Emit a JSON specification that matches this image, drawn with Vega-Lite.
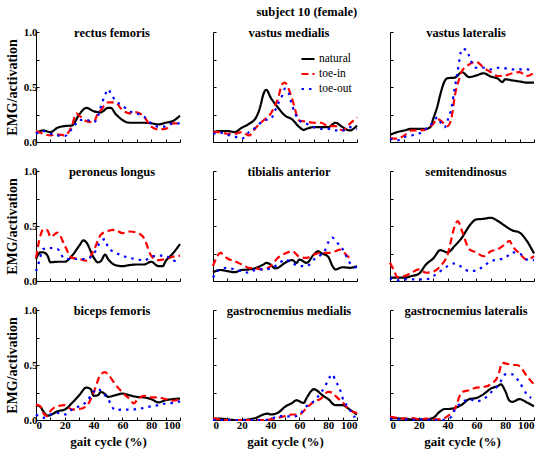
{
  "$schema": "https://vega.github.io/schema/vega-lite/v6.json",
  "padding": {"left": 5, "top": 5, "right": 4, "bottom": 4},
  "title": {"text": "subject 10 (female)", "dx": 35},
  "datasets": {
    "emg": [
      {"muscle":"rectus femoris","gait":0,"natural":0.08,"toe-in":0.1,"toe-out":0.075},
      {"muscle":"rectus femoris","gait":5,"natural":0.105,"toe-in":0.075,"toe-out":0.1},
      {"muscle":"rectus femoris","gait":10,"natural":0.09,"toe-in":0.06,"toe-out":0.075},
      {"muscle":"rectus femoris","gait":15,"natural":0.13,"toe-in":0.07,"toe-out":0.06},
      {"muscle":"rectus femoris","gait":20,"natural":0.145,"toe-in":0.06,"toe-out":0.055},
      {"muscle":"rectus femoris","gait":25,"natural":0.15,"toe-in":0.15,"toe-out":0.12},
      {"muscle":"rectus femoris","gait":28,"natural":null,"toe-in":0.26,"toe-out":0.17},
      {"muscle":"rectus femoris","gait":30,"natural":0.25,"toe-in":0.24,"toe-out":0.2},
      {"muscle":"rectus femoris","gait":35,"natural":0.31,"toe-in":0.19,"toe-out":0.2},
      {"muscle":"rectus femoris","gait":40,"natural":0.28,"toe-in":0.18,"toe-out":0.18},
      {"muscle":"rectus femoris","gait":43,"natural":null,"toe-in":0.26,"toe-out":0.23},
      {"muscle":"rectus femoris","gait":45,"natural":0.27,"toe-in":0.29,"toe-out":0.32},
      {"muscle":"rectus femoris","gait":48,"natural":null,"toe-in":null,"toe-out":0.43},
      {"muscle":"rectus femoris","gait":50,"natural":0.31,"toe-in":0.36,"toe-out":0.48},
      {"muscle":"rectus femoris","gait":52,"natural":0.31,"toe-in":null,"toe-out":0.44},
      {"muscle":"rectus femoris","gait":55,"natural":0.26,"toe-in":0.36,"toe-out":0.38},
      {"muscle":"rectus femoris","gait":60,"natural":0.2,"toe-in":0.29,"toe-out":0.33},
      {"muscle":"rectus femoris","gait":65,"natural":0.175,"toe-in":0.26,"toe-out":0.28},
      {"muscle":"rectus femoris","gait":70,"natural":0.175,"toe-in":0.27,"toe-out":0.26},
      {"muscle":"rectus femoris","gait":75,"natural":0.175,"toe-in":0.23,"toe-out":0.23},
      {"muscle":"rectus femoris","gait":80,"natural":0.17,"toe-in":0.14,"toe-out":0.17},
      {"muscle":"rectus femoris","gait":85,"natural":0.16,"toe-in":0.115,"toe-out":0.14},
      {"muscle":"rectus femoris","gait":90,"natural":0.175,"toe-in":0.12,"toe-out":0.14},
      {"muscle":"rectus femoris","gait":95,"natural":0.19,"toe-in":0.17,"toe-out":0.17},
      {"muscle":"rectus femoris","gait":100,"natural":0.24,"toe-in":0.17,"toe-out":0.17},

      {"muscle":"vastus medialis","gait":0,"natural":0.09,"toe-in":0.09,"toe-out":0.075},
      {"muscle":"vastus medialis","gait":5,"natural":0.1,"toe-in":0.09,"toe-out":0.085},
      {"muscle":"vastus medialis","gait":10,"natural":0.1,"toe-in":0.075,"toe-out":0.065},
      {"muscle":"vastus medialis","gait":15,"natural":0.09,"toe-in":0.075,"toe-out":0.05},
      {"muscle":"vastus medialis","gait":20,"natural":0.13,"toe-in":0.09,"toe-out":0.03},
      {"muscle":"vastus medialis","gait":25,"natural":0.165,"toe-in":0.06,"toe-out":0.09},
      {"muscle":"vastus medialis","gait":30,"natural":0.225,"toe-in":0.135,"toe-out":0.135},
      {"muscle":"vastus medialis","gait":33,"natural":0.33,"toe-in":null,"toe-out":null},
      {"muscle":"vastus medialis","gait":35,"natural":0.435,"toe-in":0.195,"toe-out":0.195},
      {"muscle":"vastus medialis","gait":37,"natural":0.475,"toe-in":null,"toe-out":null},
      {"muscle":"vastus medialis","gait":40,"natural":0.405,"toe-in":0.255,"toe-out":0.21},
      {"muscle":"vastus medialis","gait":43,"natural":null,"toe-in":0.33,"toe-out":null},
      {"muscle":"vastus medialis","gait":45,"natural":0.315,"toe-in":0.39,"toe-out":0.345},
      {"muscle":"vastus medialis","gait":48,"natural":null,"toe-in":0.525,"toe-out":0.42},
      {"muscle":"vastus medialis","gait":50,"natural":0.24,"toe-in":0.54,"toe-out":0.485},
      {"muscle":"vastus medialis","gait":52,"natural":null,"toe-in":0.5,"toe-out":0.465},
      {"muscle":"vastus medialis","gait":55,"natural":0.205,"toe-in":0.39,"toe-out":0.33},
      {"muscle":"vastus medialis","gait":60,"natural":0.135,"toe-in":0.195,"toe-out":0.195},
      {"muscle":"vastus medialis","gait":63,"natural":0.11,"toe-in":null,"toe-out":null},
      {"muscle":"vastus medialis","gait":65,"natural":0.12,"toe-in":0.185,"toe-out":0.165},
      {"muscle":"vastus medialis","gait":70,"natural":0.135,"toe-in":0.175,"toe-out":0.135},
      {"muscle":"vastus medialis","gait":75,"natural":0.135,"toe-in":0.175,"toe-out":0.12},
      {"muscle":"vastus medialis","gait":80,"natural":0.135,"toe-in":0.145,"toe-out":0.12},
      {"muscle":"vastus medialis","gait":85,"natural":0.175,"toe-in":0.145,"toe-out":0.105},
      {"muscle":"vastus medialis","gait":90,"natural":0.135,"toe-in":0.105,"toe-out":0.105},
      {"muscle":"vastus medialis","gait":95,"natural":0.105,"toe-in":0.165,"toe-out":0.135},
      {"muscle":"vastus medialis","gait":100,"natural":0.15,"toe-in":0.225,"toe-out":0.115},

      {"muscle":"vastus lateralis","gait":0,"natural":0.065,"toe-in":0.035,"toe-out":0.03},
      {"muscle":"vastus lateralis","gait":5,"natural":0.09,"toe-in":0.03,"toe-out":0.015},
      {"muscle":"vastus lateralis","gait":10,"natural":0.105,"toe-in":0.06,"toe-out":0.045},
      {"muscle":"vastus lateralis","gait":15,"natural":0.12,"toe-in":0.105,"toe-out":0.06},
      {"muscle":"vastus lateralis","gait":20,"natural":0.12,"toe-in":0.105,"toe-out":0.075},
      {"muscle":"vastus lateralis","gait":25,"natural":0.12,"toe-in":0.115,"toe-out":0.12},
      {"muscle":"vastus lateralis","gait":28,"natural":0.135,"toe-in":null,"toe-out":null},
      {"muscle":"vastus lateralis","gait":30,"natural":0.21,"toe-in":0.165,"toe-out":0.18},
      {"muscle":"vastus lateralis","gait":33,"natural":0.33,"toe-in":0.21,"toe-out":0.225},
      {"muscle":"vastus lateralis","gait":35,"natural":0.435,"toe-in":0.195,"toe-out":0.18},
      {"muscle":"vastus lateralis","gait":38,"natural":0.555,"toe-in":null,"toe-out":0.135},
      {"muscle":"vastus lateralis","gait":40,"natural":0.58,"toe-in":0.145,"toe-out":0.195},
      {"muscle":"vastus lateralis","gait":43,"natural":null,"toe-in":0.24,"toe-out":0.33},
      {"muscle":"vastus lateralis","gait":45,"natural":0.585,"toe-in":0.42,"toe-out":0.495},
      {"muscle":"vastus lateralis","gait":47,"natural":null,"toe-in":null,"toe-out":0.645},
      {"muscle":"vastus lateralis","gait":48,"natural":null,"toe-in":0.57,"toe-out":null},
      {"muscle":"vastus lateralis","gait":50,"natural":0.635,"toe-in":0.645,"toe-out":0.845},
      {"muscle":"vastus lateralis","gait":53,"natural":null,"toe-in":null,"toe-out":0.84},
      {"muscle":"vastus lateralis","gait":55,"natural":0.59,"toe-in":0.705,"toe-out":0.78},
      {"muscle":"vastus lateralis","gait":58,"natural":null,"toe-in":null,"toe-out":0.69},
      {"muscle":"vastus lateralis","gait":60,"natural":0.605,"toe-in":0.73,"toe-out":0.675},
      {"muscle":"vastus lateralis","gait":65,"natural":0.625,"toe-in":0.675,"toe-out":0.675},
      {"muscle":"vastus lateralis","gait":70,"natural":0.595,"toe-in":0.635,"toe-out":0.66},
      {"muscle":"vastus lateralis","gait":75,"natural":0.575,"toe-in":0.6,"toe-out":0.675},
      {"muscle":"vastus lateralis","gait":78,"natural":0.545,"toe-in":null,"toe-out":null},
      {"muscle":"vastus lateralis","gait":80,"natural":0.57,"toe-in":0.605,"toe-out":0.67},
      {"muscle":"vastus lateralis","gait":85,"natural":0.56,"toe-in":0.625,"toe-out":0.66},
      {"muscle":"vastus lateralis","gait":90,"natural":0.55,"toe-in":0.635,"toe-out":0.66},
      {"muscle":"vastus lateralis","gait":95,"natural":0.54,"toe-in":0.6,"toe-out":0.66},
      {"muscle":"vastus lateralis","gait":100,"natural":0.54,"toe-in":0.63,"toe-out":0.645},

      {"muscle":"peroneus longus","gait":0,"natural":0.2,"toe-in":0.21,"toe-out":0.09},
      {"muscle":"peroneus longus","gait":2,"natural":null,"toe-in":null,"toe-out":0.17},
      {"muscle":"peroneus longus","gait":3,"natural":0.26,"toe-in":0.41,"toe-out":null},
      {"muscle":"peroneus longus","gait":5,"natural":0.26,"toe-in":0.47,"toe-out":0.29},
      {"muscle":"peroneus longus","gait":8,"natural":0.23,"toe-in":0.46,"toe-out":null},
      {"muscle":"peroneus longus","gait":10,"natural":0.17,"toe-in":0.4,"toe-out":0.3},
      {"muscle":"peroneus longus","gait":15,"natural":0.175,"toe-in":0.44,"toe-out":0.29},
      {"muscle":"peroneus longus","gait":20,"natural":0.175,"toe-in":0.32,"toe-out":0.2},
      {"muscle":"peroneus longus","gait":25,"natural":0.23,"toe-in":0.21,"toe-out":0.2},
      {"muscle":"peroneus longus","gait":30,"natural":0.32,"toe-in":0.2,"toe-out":0.2},
      {"muscle":"peroneus longus","gait":33,"natural":0.37,"toe-in":null,"toe-out":null},
      {"muscle":"peroneus longus","gait":35,"natural":0.35,"toe-in":0.185,"toe-out":0.2},
      {"muscle":"peroneus longus","gait":40,"natural":0.215,"toe-in":0.275,"toe-out":0.245},
      {"muscle":"peroneus longus","gait":43,"natural":0.17,"toe-in":null,"toe-out":null},
      {"muscle":"peroneus longus","gait":45,"natural":0.18,"toe-in":0.42,"toe-out":0.36},
      {"muscle":"peroneus longus","gait":48,"natural":0.24,"toe-in":null,"toe-out":0.38},
      {"muscle":"peroneus longus","gait":50,"natural":0.2,"toe-in":0.455,"toe-out":0.305},
      {"muscle":"peroneus longus","gait":55,"natural":0.145,"toe-in":0.465,"toe-out":0.26},
      {"muscle":"peroneus longus","gait":60,"natural":0.135,"toe-in":0.435,"toe-out":0.23},
      {"muscle":"peroneus longus","gait":65,"natural":0.145,"toe-in":0.45,"toe-out":0.21},
      {"muscle":"peroneus longus","gait":70,"natural":0.15,"toe-in":0.44,"toe-out":0.2},
      {"muscle":"peroneus longus","gait":75,"natural":0.15,"toe-in":0.39,"toe-out":0.185},
      {"muscle":"peroneus longus","gait":80,"natural":0.175,"toe-in":0.23,"toe-out":0.22},
      {"muscle":"peroneus longus","gait":85,"natural":0.135,"toe-in":0.19,"toe-out":0.23},
      {"muscle":"peroneus longus","gait":88,"natural":0.135,"toe-in":null,"toe-out":null},
      {"muscle":"peroneus longus","gait":90,"natural":0.18,"toe-in":0.2,"toe-out":0.23},
      {"muscle":"peroneus longus","gait":95,"natural":0.25,"toe-in":0.22,"toe-out":0.185},
      {"muscle":"peroneus longus","gait":100,"natural":0.335,"toe-in":0.23,"toe-out":0.18},

      {"muscle":"tibialis anterior","gait":0,"natural":0.08,"toe-in":0.135,"toe-out":0.03},
      {"muscle":"tibialis anterior","gait":2,"natural":null,"toe-in":null,"toe-out":0.075},
      {"muscle":"tibialis anterior","gait":3,"natural":null,"toe-in":0.225,"toe-out":null},
      {"muscle":"tibialis anterior","gait":5,"natural":0.1,"toe-in":0.255,"toe-out":0.105},
      {"muscle":"tibialis anterior","gait":10,"natural":0.09,"toe-in":0.205,"toe-out":0.12},
      {"muscle":"tibialis anterior","gait":15,"natural":0.08,"toe-in":0.18,"toe-out":0.105},
      {"muscle":"tibialis anterior","gait":20,"natural":0.1,"toe-in":0.15,"toe-out":0.09},
      {"muscle":"tibialis anterior","gait":25,"natural":0.105,"toe-in":0.12,"toe-out":0.075},
      {"muscle":"tibialis anterior","gait":30,"natural":0.12,"toe-in":0.115,"toe-out":0.105},
      {"muscle":"tibialis anterior","gait":35,"natural":0.15,"toe-in":0.105,"toe-out":0.105},
      {"muscle":"tibialis anterior","gait":37,"natural":0.165,"toe-in":null,"toe-out":null},
      {"muscle":"tibialis anterior","gait":40,"natural":0.15,"toe-in":0.135,"toe-out":0.115},
      {"muscle":"tibialis anterior","gait":43,"natural":0.115,"toe-in":null,"toe-out":null},
      {"muscle":"tibialis anterior","gait":45,"natural":0.12,"toe-in":0.21,"toe-out":0.15},
      {"muscle":"tibialis anterior","gait":50,"natural":0.165,"toe-in":0.25,"toe-out":0.195},
      {"muscle":"tibialis anterior","gait":55,"natural":0.19,"toe-in":0.27,"toe-out":0.165},
      {"muscle":"tibialis anterior","gait":58,"natural":0.165,"toe-in":null,"toe-out":null},
      {"muscle":"tibialis anterior","gait":60,"natural":0.195,"toe-in":0.22,"toe-out":0.135},
      {"muscle":"tibialis anterior","gait":65,"natural":0.165,"toe-in":0.21,"toe-out":0.135},
      {"muscle":"tibialis anterior","gait":70,"natural":0.24,"toe-in":0.24,"toe-out":0.195},
      {"muscle":"tibialis anterior","gait":73,"natural":0.27,"toe-in":null,"toe-out":null},
      {"muscle":"tibialis anterior","gait":75,"natural":0.255,"toe-in":0.255,"toe-out":0.24},
      {"muscle":"tibialis anterior","gait":78,"natural":null,"toe-in":null,"toe-out":0.285},
      {"muscle":"tibialis anterior","gait":80,"natural":0.22,"toe-in":0.255,"toe-out":0.35},
      {"muscle":"tibialis anterior","gait":83,"natural":0.135,"toe-in":null,"toe-out":0.395},
      {"muscle":"tibialis anterior","gait":85,"natural":0.105,"toe-in":0.27,"toe-out":0.365},
      {"muscle":"tibialis anterior","gait":88,"natural":null,"toe-in":0.285,"toe-out":null},
      {"muscle":"tibialis anterior","gait":90,"natural":0.125,"toe-in":0.27,"toe-out":0.29},
      {"muscle":"tibialis anterior","gait":95,"natural":0.12,"toe-in":0.21,"toe-out":0.165},
      {"muscle":"tibialis anterior","gait":97,"natural":null,"toe-in":0.2,"toe-out":null},
      {"muscle":"tibialis anterior","gait":100,"natural":0.135,"toe-in":null,"toe-out":0.12},

      {"muscle":"semitendinosus","gait":0,"natural":0.03,"toe-in":0.165,"toe-out":0.03},
      {"muscle":"semitendinosus","gait":3,"natural":null,"toe-in":0.09,"toe-out":null},
      {"muscle":"semitendinosus","gait":5,"natural":0.03,"toe-in":0.035,"toe-out":0.005},
      {"muscle":"semitendinosus","gait":10,"natural":0.03,"toe-in":0.045,"toe-out":0.015},
      {"muscle":"semitendinosus","gait":15,"natural":0.045,"toe-in":0.075,"toe-out":0.015},
      {"muscle":"semitendinosus","gait":20,"natural":0.065,"toe-in":0.105,"toe-out":0.015},
      {"muscle":"semitendinosus","gait":25,"natural":0.15,"toe-in":0.075,"toe-out":0.015},
      {"muscle":"semitendinosus","gait":30,"natural":0.205,"toe-in":0.085,"toe-out":0.045},
      {"muscle":"semitendinosus","gait":35,"natural":0.28,"toe-in":0.135,"toe-out":0.09},
      {"muscle":"semitendinosus","gait":40,"natural":0.26,"toe-in":0.24,"toe-out":0.135},
      {"muscle":"semitendinosus","gait":45,"natural":0.32,"toe-in":0.5,"toe-out":0.16},
      {"muscle":"semitendinosus","gait":47,"natural":null,"toe-in":0.545,"toe-out":null},
      {"muscle":"semitendinosus","gait":50,"natural":0.395,"toe-in":0.455,"toe-out":0.125},
      {"muscle":"semitendinosus","gait":55,"natural":0.5,"toe-in":0.29,"toe-out":0.09},
      {"muscle":"semitendinosus","gait":60,"natural":0.56,"toe-in":0.26,"toe-out":0.095},
      {"muscle":"semitendinosus","gait":65,"natural":0.565,"toe-in":0.225,"toe-out":0.135},
      {"muscle":"semitendinosus","gait":70,"natural":0.575,"toe-in":0.27,"toe-out":0.18},
      {"muscle":"semitendinosus","gait":75,"natural":0.545,"toe-in":0.29,"toe-out":0.195},
      {"muscle":"semitendinosus","gait":80,"natural":0.5,"toe-in":0.335,"toe-out":0.21},
      {"muscle":"semitendinosus","gait":83,"natural":null,"toe-in":0.365,"toe-out":null},
      {"muscle":"semitendinosus","gait":85,"natural":0.46,"toe-in":0.32,"toe-out":0.26},
      {"muscle":"semitendinosus","gait":90,"natural":0.44,"toe-in":0.25,"toe-out":0.25},
      {"muscle":"semitendinosus","gait":95,"natural":0.365,"toe-in":0.195,"toe-out":0.195},
      {"muscle":"semitendinosus","gait":100,"natural":0.25,"toe-in":0.225,"toe-out":0.19},

      {"muscle":"biceps femoris","gait":0,"natural":0.135,"toe-in":0.14,"toe-out":0.05},
      {"muscle":"biceps femoris","gait":3,"natural":0.12,"toe-in":0.125,"toe-out":null},
      {"muscle":"biceps femoris","gait":5,"natural":0.08,"toe-in":0.065,"toe-out":0.02},
      {"muscle":"biceps femoris","gait":8,"natural":0.04,"toe-in":0.035,"toe-out":null},
      {"muscle":"biceps femoris","gait":10,"natural":0.045,"toe-in":0.08,"toe-out":0.05},
      {"muscle":"biceps femoris","gait":15,"natural":0.08,"toe-in":0.125,"toe-out":0.065},
      {"muscle":"biceps femoris","gait":20,"natural":0.095,"toe-in":0.135,"toe-out":0.05},
      {"muscle":"biceps femoris","gait":25,"natural":0.155,"toe-in":0.095,"toe-out":0.095},
      {"muscle":"biceps femoris","gait":30,"natural":0.225,"toe-in":0.1,"toe-out":0.125},
      {"muscle":"biceps femoris","gait":35,"natural":0.295,"toe-in":0.125,"toe-out":0.165},
      {"muscle":"biceps femoris","gait":38,"natural":0.28,"toe-in":null,"toe-out":null},
      {"muscle":"biceps femoris","gait":40,"natural":0.22,"toe-in":0.25,"toe-out":0.255},
      {"muscle":"biceps femoris","gait":43,"natural":0.225,"toe-in":null,"toe-out":0.285},
      {"muscle":"biceps femoris","gait":45,"natural":0.255,"toe-in":0.415,"toe-out":0.265},
      {"muscle":"biceps femoris","gait":48,"natural":0.235,"toe-in":0.435,"toe-out":null},
      {"muscle":"biceps femoris","gait":50,"natural":0.21,"toe-in":0.415,"toe-out":0.19},
      {"muscle":"biceps femoris","gait":55,"natural":0.225,"toe-in":0.325,"toe-out":0.09},
      {"muscle":"biceps femoris","gait":60,"natural":0.24,"toe-in":0.25,"toe-out":0.095},
      {"muscle":"biceps femoris","gait":65,"natural":0.225,"toe-in":0.19,"toe-out":0.095},
      {"muscle":"biceps femoris","gait":68,"natural":null,"toe-in":0.15,"toe-out":null},
      {"muscle":"biceps femoris","gait":70,"natural":0.21,"toe-in":0.18,"toe-out":0.1},
      {"muscle":"biceps femoris","gait":75,"natural":0.205,"toe-in":0.22,"toe-out":0.11},
      {"muscle":"biceps femoris","gait":80,"natural":0.19,"toe-in":0.205,"toe-out":0.125},
      {"muscle":"biceps femoris","gait":85,"natural":0.16,"toe-in":0.205,"toe-out":0.135},
      {"muscle":"biceps femoris","gait":90,"natural":0.18,"toe-in":0.19,"toe-out":0.15},
      {"muscle":"biceps femoris","gait":95,"natural":0.19,"toe-in":0.175,"toe-out":0.155},
      {"muscle":"biceps femoris","gait":100,"natural":0.195,"toe-in":0.19,"toe-out":0.17},

      {"muscle":"gastrocnemius medialis","gait":0,"natural":0.012,"toe-in":0.012,"toe-out":0},
      {"muscle":"gastrocnemius medialis","gait":5,"natural":0.012,"toe-in":0.006,"toe-out":0},
      {"muscle":"gastrocnemius medialis","gait":10,"natural":0.006,"toe-in":0,"toe-out":0},
      {"muscle":"gastrocnemius medialis","gait":15,"natural":0,"toe-in":0,"toe-out":0},
      {"muscle":"gastrocnemius medialis","gait":20,"natural":0,"toe-in":0,"toe-out":0},
      {"muscle":"gastrocnemius medialis","gait":25,"natural":0.006,"toe-in":0,"toe-out":0},
      {"muscle":"gastrocnemius medialis","gait":30,"natural":0.02,"toe-in":0,"toe-out":0},
      {"muscle":"gastrocnemius medialis","gait":35,"natural":0.05,"toe-in":0,"toe-out":0},
      {"muscle":"gastrocnemius medialis","gait":38,"natural":0.058,"toe-in":null,"toe-out":null},
      {"muscle":"gastrocnemius medialis","gait":40,"natural":0.05,"toe-in":0.006,"toe-out":0.006},
      {"muscle":"gastrocnemius medialis","gait":45,"natural":0.065,"toe-in":0.02,"toe-out":0.035},
      {"muscle":"gastrocnemius medialis","gait":50,"natural":0.12,"toe-in":0.035,"toe-out":0.035},
      {"muscle":"gastrocnemius medialis","gait":55,"natural":0.155,"toe-in":0.05,"toe-out":0.03},
      {"muscle":"gastrocnemius medialis","gait":58,"natural":0.18,"toe-in":null,"toe-out":null},
      {"muscle":"gastrocnemius medialis","gait":60,"natural":0.17,"toe-in":0.05,"toe-out":0.05},
      {"muscle":"gastrocnemius medialis","gait":63,"natural":0.155,"toe-in":null,"toe-out":null},
      {"muscle":"gastrocnemius medialis","gait":65,"natural":0.2,"toe-in":0.11,"toe-out":0.125},
      {"muscle":"gastrocnemius medialis","gait":68,"natural":0.26,"toe-in":null,"toe-out":null},
      {"muscle":"gastrocnemius medialis","gait":70,"natural":0.28,"toe-in":0.165,"toe-out":0.17},
      {"muscle":"gastrocnemius medialis","gait":73,"natural":0.26,"toe-in":null,"toe-out":null},
      {"muscle":"gastrocnemius medialis","gait":75,"natural":0.235,"toe-in":0.195,"toe-out":0.25},
      {"muscle":"gastrocnemius medialis","gait":78,"natural":null,"toe-in":null,"toe-out":0.31},
      {"muscle":"gastrocnemius medialis","gait":80,"natural":0.19,"toe-in":0.255,"toe-out":0.365},
      {"muscle":"gastrocnemius medialis","gait":83,"natural":null,"toe-in":0.25,"toe-out":0.415},
      {"muscle":"gastrocnemius medialis","gait":85,"natural":0.135,"toe-in":0.22,"toe-out":0.355},
      {"muscle":"gastrocnemius medialis","gait":88,"natural":null,"toe-in":null,"toe-out":0.285},
      {"muscle":"gastrocnemius medialis","gait":90,"natural":0.135,"toe-in":0.16,"toe-out":0.2},
      {"muscle":"gastrocnemius medialis","gait":95,"natural":0.095,"toe-in":0.09,"toe-out":0.095},
      {"muscle":"gastrocnemius medialis","gait":98,"natural":null,"toe-in":null,"toe-out":0.03},
      {"muscle":"gastrocnemius medialis","gait":100,"natural":0.05,"toe-in":0.065,"toe-out":0.04},

      {"muscle":"gastrocnemius lateralis","gait":0,"natural":0.02,"toe-in":0.03,"toe-out":0.012},
      {"muscle":"gastrocnemius lateralis","gait":5,"natural":0.015,"toe-in":0.02,"toe-out":0.006},
      {"muscle":"gastrocnemius lateralis","gait":10,"natural":0.012,"toe-in":0.012,"toe-out":0.006},
      {"muscle":"gastrocnemius lateralis","gait":15,"natural":0.006,"toe-in":0.02,"toe-out":0.003},
      {"muscle":"gastrocnemius lateralis","gait":20,"natural":0.006,"toe-in":0.006,"toe-out":0.003},
      {"muscle":"gastrocnemius lateralis","gait":25,"natural":0.006,"toe-in":0.012,"toe-out":0.003},
      {"muscle":"gastrocnemius lateralis","gait":30,"natural":0.02,"toe-in":0.006,"toe-out":0},
      {"muscle":"gastrocnemius lateralis","gait":35,"natural":0.08,"toe-in":0.006,"toe-out":0},
      {"muscle":"gastrocnemius lateralis","gait":38,"natural":0.1,"toe-in":null,"toe-out":null},
      {"muscle":"gastrocnemius lateralis","gait":40,"natural":0.1,"toe-in":0.035,"toe-out":0.012},
      {"muscle":"gastrocnemius lateralis","gait":43,"natural":null,"toe-in":null,"toe-out":0.035},
      {"muscle":"gastrocnemius lateralis","gait":45,"natural":0.11,"toe-in":0.1,"toe-out":0.095},
      {"muscle":"gastrocnemius lateralis","gait":50,"natural":0.14,"toe-in":0.255,"toe-out":0.155},
      {"muscle":"gastrocnemius lateralis","gait":55,"natural":0.19,"toe-in":0.27,"toe-out":0.19},
      {"muscle":"gastrocnemius lateralis","gait":60,"natural":0.2,"toe-in":0.295,"toe-out":0.17},
      {"muscle":"gastrocnemius lateralis","gait":65,"natural":0.235,"toe-in":0.3,"toe-out":0.19},
      {"muscle":"gastrocnemius lateralis","gait":70,"natural":0.285,"toe-in":0.325,"toe-out":0.25},
      {"muscle":"gastrocnemius lateralis","gait":75,"natural":0.31,"toe-in":0.4,"toe-out":0.315},
      {"muscle":"gastrocnemius lateralis","gait":77,"natural":0.325,"toe-in":null,"toe-out":null},
      {"muscle":"gastrocnemius lateralis","gait":78,"natural":null,"toe-in":0.52,"toe-out":0.375},
      {"muscle":"gastrocnemius lateralis","gait":80,"natural":0.265,"toe-in":0.515,"toe-out":0.415},
      {"muscle":"gastrocnemius lateralis","gait":83,"natural":0.175,"toe-in":null,"toe-out":null},
      {"muscle":"gastrocnemius lateralis","gait":85,"natural":0.165,"toe-in":0.5,"toe-out":0.415},
      {"muscle":"gastrocnemius lateralis","gait":88,"natural":null,"toe-in":0.5,"toe-out":null},
      {"muscle":"gastrocnemius lateralis","gait":90,"natural":0.19,"toe-in":0.49,"toe-out":0.34},
      {"muscle":"gastrocnemius lateralis","gait":95,"natural":0.16,"toe-in":0.4,"toe-out":0.235},
      {"muscle":"gastrocnemius lateralis","gait":98,"natural":null,"toe-in":null,"toe-out":0.2},
      {"muscle":"gastrocnemius lateralis","gait":100,"natural":0.125,"toe-in":0.325,"toe-out":null}
    ]
  },
  "data": {"name": "emg"},
  "transform": [
    {"fold": ["natural", "toe-in", "toe-out"], "as": ["condition", "emg"]},
    {"filter": "datum.emg != null"}
  ],
  "columns": 3,
  "align": "each",
  "spacing": {"row": 18, "column": 23},
  "resolve": {"legend": {"color": "independent", "strokeDash": "independent"}},
  "concat": [
    {
      "width": 144, "height": 110,
      "transform": [{"filter": "datum.muscle === 'rectus femoris'"}],
      "layer": [
        {"mark": "line", "encoding": {
          "x": {"field": "gait", "type": "quantitative", "scale": {"domain": [0, 100]}, "axis": {"values": [0,10,20,30,40,50,60,70,80,90,100], "tickCount": 11, "labels": false, "title": null}},
          "y": {"field": "emg", "type": "quantitative", "scale": {"domain": [0, 1]}, "axis": {"values": [0,0.25,0.5,0.75,1], "tickCount": 5, "labelExpr": "datum.value % 0.5 === 0 ? format(datum.value, '.1f') : ''", "title": "EMG/activation"}},
          "color": {"field": "condition", "type": "nominal", "scale": {"domain": ["natural","toe-in","toe-out"], "range": ["#000000","#ff0000","#0000ff"]}, "legend": null},
          "strokeDash": {"field": "condition", "type": "nominal", "scale": {"domain": ["natural","toe-in","toe-out"], "range": [[1,0],[7,4],[2.5,5]]}, "legend": null}
        }},
        {"transform": [{"aggregate": [{"op": "count", "as": "n"}], "groupby": ["muscle"]}],
         "mark": "text", "encoding": {"x": {"datum": 50}, "y": {"datum": 1}, "text": {"field": "muscle"}}}
      ]
    },
    {
      "width": 144, "height": 110,
      "transform": [{"filter": "datum.muscle === 'vastus medialis'"}],
      "layer": [
        {"mark": "line", "encoding": {
          "x": {"field": "gait", "type": "quantitative", "scale": {"domain": [0, 100]}, "axis": {"values": [0,10,20,30,40,50,60,70,80,90,100], "tickCount": 11, "labels": false, "title": null}},
          "y": {"field": "emg", "type": "quantitative", "scale": {"domain": [0, 1]}, "axis": {"values": [0,0.25,0.5,0.75,1], "tickCount": 5, "labels": false, "title": null}},
          "color": {"field": "condition", "type": "nominal", "scale": {"domain": ["natural","toe-in","toe-out"], "range": ["#000000","#ff0000","#0000ff"]}, "legend": {"orient": "none", "legendX": 87, "legendY": 19, "title": null}},
          "strokeDash": {"field": "condition", "type": "nominal", "scale": {"domain": ["natural","toe-in","toe-out"], "range": [[1,0],[7,4],[2.5,5]]}, "legend": {"orient": "none", "legendX": 87, "legendY": 19, "title": null}}
        }},
        {"transform": [{"aggregate": [{"op": "count", "as": "n"}], "groupby": ["muscle"]}],
         "mark": "text", "encoding": {"x": {"datum": 50}, "y": {"datum": 1}, "text": {"field": "muscle"}}}
      ]
    },
    {
      "width": 144, "height": 110,
      "transform": [{"filter": "datum.muscle === 'vastus lateralis'"}],
      "layer": [
        {"mark": "line", "encoding": {
          "x": {"field": "gait", "type": "quantitative", "scale": {"domain": [0, 100]}, "axis": {"values": [0,10,20,30,40,50,60,70,80,90,100], "tickCount": 11, "labels": false, "title": null}},
          "y": {"field": "emg", "type": "quantitative", "scale": {"domain": [0, 1]}, "axis": {"values": [0,0.25,0.5,0.75,1], "tickCount": 5, "labels": false, "title": null}},
          "color": {"field": "condition", "type": "nominal", "scale": {"domain": ["natural","toe-in","toe-out"], "range": ["#000000","#ff0000","#0000ff"]}, "legend": null},
          "strokeDash": {"field": "condition", "type": "nominal", "scale": {"domain": ["natural","toe-in","toe-out"], "range": [[1,0],[7,4],[2.5,5]]}, "legend": null}
        }},
        {"transform": [{"aggregate": [{"op": "count", "as": "n"}], "groupby": ["muscle"]}],
         "mark": "text", "encoding": {"x": {"datum": 50}, "y": {"datum": 1}, "text": {"field": "muscle"}}}
      ]
    },
    {
      "width": 144, "height": 110,
      "transform": [{"filter": "datum.muscle === 'peroneus longus'"}],
      "layer": [
        {"mark": "line", "encoding": {
          "x": {"field": "gait", "type": "quantitative", "scale": {"domain": [0, 100]}, "axis": {"values": [0,10,20,30,40,50,60,70,80,90,100], "tickCount": 11, "labels": false, "title": null}},
          "y": {"field": "emg", "type": "quantitative", "scale": {"domain": [0, 1]}, "axis": {"values": [0,0.25,0.5,0.75,1], "tickCount": 5, "labelExpr": "datum.value % 0.5 === 0 ? format(datum.value, '.1f') : ''", "title": "EMG/activation"}},
          "color": {"field": "condition", "type": "nominal", "scale": {"domain": ["natural","toe-in","toe-out"], "range": ["#000000","#ff0000","#0000ff"]}, "legend": null},
          "strokeDash": {"field": "condition", "type": "nominal", "scale": {"domain": ["natural","toe-in","toe-out"], "range": [[1,0],[7,4],[2.5,5]]}, "legend": null}
        }},
        {"transform": [{"aggregate": [{"op": "count", "as": "n"}], "groupby": ["muscle"]}],
         "mark": "text", "encoding": {"x": {"datum": 50}, "y": {"datum": 1}, "text": {"field": "muscle"}}}
      ]
    },
    {
      "width": 144, "height": 110,
      "transform": [{"filter": "datum.muscle === 'tibialis anterior'"}],
      "layer": [
        {"mark": "line", "encoding": {
          "x": {"field": "gait", "type": "quantitative", "scale": {"domain": [0, 100]}, "axis": {"values": [0,10,20,30,40,50,60,70,80,90,100], "tickCount": 11, "labels": false, "title": null}},
          "y": {"field": "emg", "type": "quantitative", "scale": {"domain": [0, 1]}, "axis": {"values": [0,0.25,0.5,0.75,1], "tickCount": 5, "labels": false, "title": null}},
          "color": {"field": "condition", "type": "nominal", "scale": {"domain": ["natural","toe-in","toe-out"], "range": ["#000000","#ff0000","#0000ff"]}, "legend": null},
          "strokeDash": {"field": "condition", "type": "nominal", "scale": {"domain": ["natural","toe-in","toe-out"], "range": [[1,0],[7,4],[2.5,5]]}, "legend": null}
        }},
        {"transform": [{"aggregate": [{"op": "count", "as": "n"}], "groupby": ["muscle"]}],
         "mark": "text", "encoding": {"x": {"datum": 50}, "y": {"datum": 1}, "text": {"field": "muscle"}}}
      ]
    },
    {
      "width": 144, "height": 110,
      "transform": [{"filter": "datum.muscle === 'semitendinosus'"}],
      "layer": [
        {"mark": "line", "encoding": {
          "x": {"field": "gait", "type": "quantitative", "scale": {"domain": [0, 100]}, "axis": {"values": [0,10,20,30,40,50,60,70,80,90,100], "tickCount": 11, "labels": false, "title": null}},
          "y": {"field": "emg", "type": "quantitative", "scale": {"domain": [0, 1]}, "axis": {"values": [0,0.25,0.5,0.75,1], "tickCount": 5, "labels": false, "title": null}},
          "color": {"field": "condition", "type": "nominal", "scale": {"domain": ["natural","toe-in","toe-out"], "range": ["#000000","#ff0000","#0000ff"]}, "legend": null},
          "strokeDash": {"field": "condition", "type": "nominal", "scale": {"domain": ["natural","toe-in","toe-out"], "range": [[1,0],[7,4],[2.5,5]]}, "legend": null}
        }},
        {"transform": [{"aggregate": [{"op": "count", "as": "n"}], "groupby": ["muscle"]}],
         "mark": "text", "encoding": {"x": {"datum": 50}, "y": {"datum": 1}, "text": {"field": "muscle"}}}
      ]
    },
    {
      "width": 144, "height": 110,
      "transform": [{"filter": "datum.muscle === 'biceps femoris'"}],
      "layer": [
        {"mark": "line", "encoding": {
          "x": {"field": "gait", "type": "quantitative", "scale": {"domain": [0, 100]}, "axis": {"values": [0,10,20,30,40,50,60,70,80,90,100], "tickCount": 11, "labelExpr": "datum.value % 20 === 0 ? datum.label : ''", "title": "gait cycle (%)"}},
          "y": {"field": "emg", "type": "quantitative", "scale": {"domain": [0, 1]}, "axis": {"values": [0,0.25,0.5,0.75,1], "tickCount": 5, "labelExpr": "datum.value % 0.5 === 0 ? format(datum.value, '.1f') : ''", "title": "EMG/activation"}},
          "color": {"field": "condition", "type": "nominal", "scale": {"domain": ["natural","toe-in","toe-out"], "range": ["#000000","#ff0000","#0000ff"]}, "legend": null},
          "strokeDash": {"field": "condition", "type": "nominal", "scale": {"domain": ["natural","toe-in","toe-out"], "range": [[1,0],[7,4],[2.5,5]]}, "legend": null}
        }},
        {"transform": [{"aggregate": [{"op": "count", "as": "n"}], "groupby": ["muscle"]}],
         "mark": "text", "encoding": {"x": {"datum": 50}, "y": {"datum": 1}, "text": {"field": "muscle"}}}
      ]
    },
    {
      "width": 144, "height": 110,
      "transform": [{"filter": "datum.muscle === 'gastrocnemius medialis'"}],
      "layer": [
        {"mark": "line", "encoding": {
          "x": {"field": "gait", "type": "quantitative", "scale": {"domain": [0, 100]}, "axis": {"values": [0,10,20,30,40,50,60,70,80,90,100], "tickCount": 11, "labelExpr": "datum.value % 20 === 0 ? datum.label : ''", "title": "gait cycle (%)"}},
          "y": {"field": "emg", "type": "quantitative", "scale": {"domain": [0, 1]}, "axis": {"values": [0,0.25,0.5,0.75,1], "tickCount": 5, "labels": false, "title": null}},
          "color": {"field": "condition", "type": "nominal", "scale": {"domain": ["natural","toe-in","toe-out"], "range": ["#000000","#ff0000","#0000ff"]}, "legend": null},
          "strokeDash": {"field": "condition", "type": "nominal", "scale": {"domain": ["natural","toe-in","toe-out"], "range": [[1,0],[7,4],[2.5,5]]}, "legend": null}
        }},
        {"transform": [{"aggregate": [{"op": "count", "as": "n"}], "groupby": ["muscle"]}],
         "mark": "text", "encoding": {"x": {"datum": 50}, "y": {"datum": 1}, "text": {"field": "muscle"}}}
      ]
    },
    {
      "width": 144, "height": 110,
      "transform": [{"filter": "datum.muscle === 'gastrocnemius lateralis'"}],
      "layer": [
        {"mark": "line", "encoding": {
          "x": {"field": "gait", "type": "quantitative", "scale": {"domain": [0, 100]}, "axis": {"values": [0,10,20,30,40,50,60,70,80,90,100], "tickCount": 11, "labelExpr": "datum.value % 20 === 0 ? datum.label : ''", "title": "gait cycle (%)"}},
          "y": {"field": "emg", "type": "quantitative", "scale": {"domain": [0, 1]}, "axis": {"values": [0,0.25,0.5,0.75,1], "tickCount": 5, "labels": false, "title": null}},
          "color": {"field": "condition", "type": "nominal", "scale": {"domain": ["natural","toe-in","toe-out"], "range": ["#000000","#ff0000","#0000ff"]}, "legend": null},
          "strokeDash": {"field": "condition", "type": "nominal", "scale": {"domain": ["natural","toe-in","toe-out"], "range": [[1,0],[7,4],[2.5,5]]}, "legend": null}
        }},
        {"transform": [{"aggregate": [{"op": "count", "as": "n"}], "groupby": ["muscle"]}],
         "mark": "text", "encoding": {"x": {"datum": 50}, "y": {"datum": 1}, "text": {"field": "muscle"}}}
      ]
    }
  ],
  "config": {
    "font": "Liberation Serif",
    "view": {"stroke": null},
    "axis": {
      "grid": false,
      "domainColor": "#000000",
      "tickColor": "#000000",
      "tickSize": -3,
      "labelOverlap": false,
      "labelFont": "Liberation Serif",
      "labelFontSize": 11,
      "labelFontWeight": "bold",
      "labelColor": "#000000",
      "titleFont": "Liberation Serif",
      "titleFontWeight": "bold",
      "titleColor": "#000000"
    },
    "axisX": {"labelPadding": 2, "titleFontSize": 13, "titlePadding": 5},
    "axisY": {"labelPadding": 2, "titleFontSize": 14, "titlePadding": 4},
    "line": {"strokeWidth": 2.2, "interpolate": "monotone"},
    "text": {"font": "Liberation Serif", "fontSize": 12.5, "fontWeight": "bold", "baseline": "middle", "color": "#000000", "dx": 4, "dy": 1},
    "legend": {
      "labelFont": "Liberation Serif",
      "labelFontSize": 11.5,
      "labelColor": "#000000",
      "labelOffset": 3,
      "symbolType": "stroke",
      "symbolSize": 170,
      "symbolStrokeWidth": 2.2,
      "rowPadding": 1
    },
    "title": {"font": "Liberation Serif", "fontSize": 12.5, "fontWeight": "bold", "color": "#000000", "anchor": "middle", "offset": 8}
  }
}
